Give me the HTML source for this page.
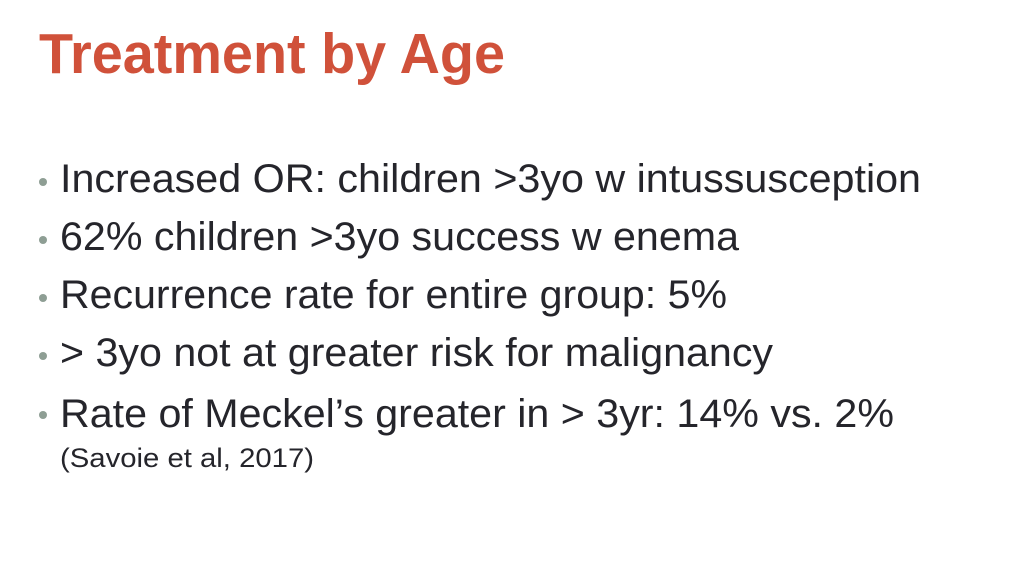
<!DOCTYPE html>
<html><head><meta charset="utf-8"><style>
html,body{margin:0;padding:0;background:#fff;}
svg{display:block;}
</style></head><body>
<svg width="1024" height="585" viewBox="0 0 1024 585" xmlns="http://www.w3.org/2000/svg">
<rect width="1024" height="585" fill="#fff"/>
<text x="39" y="73" font-family="Liberation Sans, sans-serif" font-weight="bold" font-size="57" fill="#D0513A" textLength="466" lengthAdjust="spacingAndGlyphs">Treatment by Age</text>
<g fill="#8E9E94">
<circle cx="43" cy="182" r="4"/>
<circle cx="43" cy="240" r="4"/>
<circle cx="43" cy="298" r="4"/>
<circle cx="43" cy="356" r="4"/>
<circle cx="43" cy="415" r="4"/>
</g>
<g font-family="Liberation Sans, sans-serif" font-size="40" fill="#25252B">
<text x="60" y="192" textLength="861" lengthAdjust="spacingAndGlyphs">Increased OR: children &gt;3yo w intussusception</text>
<text x="60" y="250" textLength="679" lengthAdjust="spacingAndGlyphs">62% children &gt;3yo success w enema</text>
<text x="60" y="308" textLength="667" lengthAdjust="spacingAndGlyphs">Recurrence rate for entire group: 5%</text>
<text x="60" y="366" textLength="713" lengthAdjust="spacingAndGlyphs">&gt; 3yo not at greater risk for malignancy</text>
<text x="60" y="427" textLength="834" lengthAdjust="spacingAndGlyphs">Rate of Meckel’s greater in &gt; 3yr: 14% vs. 2%</text>
<text x="60" y="467" font-size="27" textLength="254" lengthAdjust="spacingAndGlyphs">(Savoie et al, 2017)</text>
</g>
</svg>
</body></html>
